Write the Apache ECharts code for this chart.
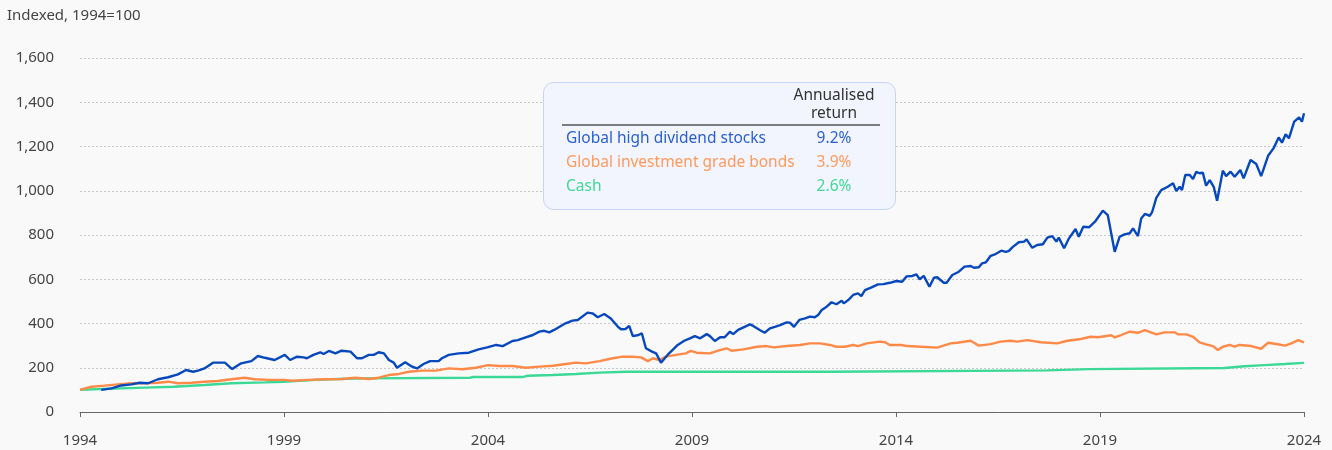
<!DOCTYPE html>
<html>
<head>
<meta charset="utf-8">
<script src="https://cdn.jsdelivr.net/npm/echarts@6/dist/echarts.min.js"></script>
<style>
html,body{margin:0;padding:0;background:#f9f9f9;}
#chart{width:1332px;height:450px;}
</style>
</head>
<body>
<div id="chart"></div>
<script>
var xTicks = [1994, 1999, 2004, 2009, 2014, 2019, 2024];
var yTicks = [0, 200, 400, 600, 800, 1000, 1200, 1400, 1600];

var seriesNames = ["Global high dividend stocks", "Global investment grade bonds", "Cash"];
var annualisedReturns = ["9.2%", "3.9%", "2.6%"];

var stocksYears = [1994.52,1994.77,1995.01,1995.26,1995.46,1995.67,1995.91,1996.16,1996.4,1996.6,1996.77,1996.89,1997.05,1997.26,1997.55,1997.73,1997.95,1998.2,1998.36,1998.53,1998.77,1999.02,1999.15,1999.32,1999.48,1999.56,1999.72,1999.89,1999.97,2000.1,2000.26,2000.41,2000.63,2000.79,2000.91,2001.08,2001.2,2001.32,2001.45,2001.57,2001.69,2001.77,2001.97,2002.14,2002.26,2002.42,2002.58,2002.79,2002.87,2003.04,2003.28,2003.53,2003.77,2003.98,2004.2,2004.36,2004.6,2004.73,2004.85,2005.1,2005.26,2005.38,2005.5,2005.62,2005.87,2006.07,2006.2,2006.44,2006.56,2006.69,2006.85,2007.01,2007.18,2007.26,2007.37,2007.46,2007.55,2007.69,2007.77,2007.87,2008.02,2008.12,2008.24,2008.4,2008.52,2008.65,2008.81,2008.95,2009.07,2009.2,2009.36,2009.44,2009.56,2009.69,2009.8,2009.93,2010.01,2010.13,2010.29,2010.42,2010.5,2010.66,2010.78,2010.91,2011.03,2011.16,2011.32,2011.4,2011.5,2011.63,2011.77,2011.89,2012.01,2012.09,2012.18,2012.3,2012.42,2012.54,2012.67,2012.72,2012.83,2012.95,2013.07,2013.15,2013.24,2013.4,2013.56,2013.69,2013.85,2014.01,2014.15,2014.26,2014.4,2014.5,2014.58,2014.68,2014.82,2014.93,2015.01,2015.17,2015.24,2015.38,2015.54,2015.68,2015.83,2015.91,2016.03,2016.11,2016.2,2016.32,2016.44,2016.58,2016.69,2016.77,2016.85,2017.01,2017.14,2017.2,2017.34,2017.46,2017.6,2017.71,2017.83,2017.93,2017.99,2018.12,2018.24,2018.4,2018.48,2018.59,2018.73,2018.89,2019.07,2019.19,2019.36,2019.48,2019.6,2019.73,2019.81,2019.93,2020.01,2020.1,2020.22,2020.28,2020.38,2020.5,2020.66,2020.79,2020.87,2020.95,2021.01,2021.09,2021.2,2021.28,2021.36,2021.44,2021.52,2021.6,2021.69,2021.79,2021.87,2022.01,2022.09,2022.2,2022.3,2022.44,2022.52,2022.69,2022.83,2022.95,2023.12,2023.26,2023.38,2023.46,2023.55,2023.63,2023.76,2023.88,2023.95,2024.0];
var stocksValues = [100,107,120,125,132,130,148,157,170,190,182,187,197,223,223,194,220,230,253,245,235,258,235,250,247,243,258,270,262,276,265,277,273,243,243,258,258,270,265,235,223,200,225,205,197,217,230,230,243,258,265,268,283,292,303,298,321,325,333,348,363,367,360,371,398,413,416,449,446,428,443,423,386,374,375,389,343,348,356,288,273,265,223,258,280,303,322,333,343,333,352,343,321,338,338,363,352,371,385,396,389,371,358,378,385,393,405,404,385,416,423,431,428,438,461,476,496,487,503,491,506,529,536,524,551,563,577,578,584,592,589,613,615,622,600,615,566,607,609,584,584,619,634,657,660,652,654,672,676,706,714,729,724,728,744,767,770,780,742,755,758,788,795,770,788,740,785,827,792,837,835,863,910,890,724,792,803,808,830,795,875,895,887,905,968,1003,1018,1034,999,1018,1003,1071,1071,1053,1086,1079,1082,1023,1048,1016,955,1091,1066,1086,1063,1094,1056,1139,1121,1066,1158,1194,1241,1217,1255,1237,1312,1332,1312,1350];

var bondsYears = [1994,1994.28,1994.6,1994.93,1995.26,1995.59,1995.91,1996.16,1996.4,1996.73,1997.05,1997.38,1997.71,1998.03,1998.28,1998.6,1999.0,1999.2,1999.6,2000.01,2000.42,2000.75,2001.08,2001.32,2001.57,2001.82,2002.06,2002.39,2002.72,2003.04,2003.37,2003.7,2004.0,2004.28,2004.6,2004.93,2005.26,2005.59,2005.91,2006.16,2006.4,2006.73,2007.06,2007.3,2007.55,2007.75,2007.92,2008.04,2008.2,2008.36,2008.61,2008.85,2008.97,2009.11,2009.44,2009.64,2009.85,2009.97,2010.26,2010.59,2010.83,2011.0,2011.32,2011.65,2011.89,2012.14,2012.38,2012.54,2012.75,2012.95,2013.07,2013.28,2013.6,2013.73,2013.85,2014.13,2014.28,2014.61,2015.01,2015.34,2015.5,2015.83,2016.03,2016.32,2016.56,2016.81,2016.97,2017.22,2017.55,2017.95,2018.2,2018.53,2018.77,2018.95,2019.28,2019.36,2019.52,2019.73,2019.93,2020.1,2020.38,2020.58,2020.83,2020.91,2021.12,2021.28,2021.44,2021.6,2021.77,2021.89,2022.01,2022.18,2022.3,2022.42,2022.71,2022.95,2023.12,2023.36,2023.53,2023.69,2023.86,2024.0];
var bondsValues = [100,114,119,125,130,130,132,137,130,132,137,140,148,155,148,145,145,141,145,148,149,155,149,155,167,172,182,187,187,197,193,200,212,208,208,200,205,209,217,223,220,230,243,250,250,247,230,243,235,250,258,265,276,268,265,277,288,277,283,295,298,292,298,303,310,310,303,295,295,303,298,310,318,315,303,303,298,295,291,310,313,322,300,307,318,322,318,325,315,310,322,330,340,338,347,337,348,363,358,370,351,360,360,351,351,340,315,306,298,280,295,303,295,303,298,286,313,306,300,310,325,315];

var cashYears = [1994,1994.52,1995.59,1996.3,1997.05,1997.71,1998.53,1999.0,1999.77,2000.34,2000.99,2003.56,2003.64,2004.85,2004.97,2005.59,2006.16,2006.73,2007.38,2012.38,2012.42,2017.71,2017.75,2018.73,2018.77,2022.05,2022.54,2023.03,2023.53,2024.0];
var cashValues = [100,104,110,114,122,130,134,137,145,149,152,155,158,158,164,167,172,178,182,182,188,188,194,194,199,199,207,212,217,222];

var colors = ["#0748bd", "#ff8a48", "#3ad996"];
var textColors = ["#2a5fd0", "#ff9a5e", "#40d894"];

function pairs(xs, ys) {
  var out = [];
  for (var i = 0; i < xs.length; i++) out.push([xs[i], ys[i]]);
  return out;
}

var FONT = "'Noto Sans', sans-serif";
var chart = echarts.init(document.getElementById('chart'), null, {renderer: 'canvas'});

var graphics = [
  {type: 'text', left: 7, top: 8, style: {text: 'Indexed, 1994=100', font: '15px ' + FONT, fill: '#444'}},
  {type: 'rect', shape: {x: 543.5, y: 82.5, width: 352, height: 127, r: 10}, style: {fill: '#f2f5fd', stroke: '#c7d2f6', lineWidth: 1}, z: 10},
  {type: 'text', x: 834, y: 96, style: {text: 'Annualised', font: '15.5px ' + FONT, fill: '#333', align: 'center', verticalAlign: 'middle'}, z: 11},
  {type: 'text', x: 834, y: 114, style: {text: 'return', font: '15.5px ' + FONT, fill: '#333', align: 'center', verticalAlign: 'middle'}, z: 11},
  {type: 'line', shape: {x1: 562, y1: 125, x2: 880, y2: 125}, style: {stroke: '#555', lineWidth: 1.5}, z: 11}
];
var rowYs = [139, 163, 187];
for (var i = 0; i < seriesNames.length; i++) {
  graphics.push({type: 'text', x: 566, y: rowYs[i], style: {text: seriesNames[i], font: '15.5px ' + FONT, fill: textColors[i], align: 'left', verticalAlign: 'middle'}, z: 11});
  graphics.push({type: 'text', x: 834, y: rowYs[i], style: {text: annualisedReturns[i], font: '15.5px ' + FONT, fill: textColors[i], align: 'center', verticalAlign: 'middle'}, z: 11});
}

chart.setOption({
  animation: false,
  backgroundColor: '#f9f9f9',
  textStyle: {fontFamily: FONT},
  grid: {left: 80, right: 28, top: 58, bottom: 38, containLabel: false},
  xAxis: {
    type: 'value',
    min: xTicks[0],
    max: xTicks[xTicks.length - 1],
    interval: 5,
    axisLine: {show: true, lineStyle: {color: '#666', width: 1}},
    axisTick: {show: true, length: 5, lineStyle: {color: '#666'}},
    axisLabel: {color: '#444', fontSize: 15, margin: 21, formatter: function (v) { return String(v); }},
    splitLine: {show: false}
  },
  yAxis: {
    type: 'value',
    min: yTicks[0],
    max: yTicks[yTicks.length - 1],
    interval: 200,
    axisLine: {show: false},
    axisTick: {show: false},
    axisLabel: {color: '#444', fontSize: 15, margin: 26},
    splitLine: {show: true, lineStyle: {color: '#c8c8c8', type: [2, 2], width: 1}}
  },
  graphic: graphics,
  series: [
    {name: seriesNames[2], type: 'line', data: pairs(cashYears, cashValues), showSymbol: false, lineStyle: {color: colors[2], width: 2.4}, itemStyle: {color: colors[2]}, z: 2},
    {name: seriesNames[1], type: 'line', data: pairs(bondsYears, bondsValues), showSymbol: false, lineStyle: {color: colors[1], width: 2.4}, itemStyle: {color: colors[1]}, z: 3},
    {name: seriesNames[0], type: 'line', data: pairs(stocksYears, stocksValues), showSymbol: false, lineStyle: {color: colors[0], width: 2.4}, itemStyle: {color: colors[0]}, z: 4}
  ]
});
</script>
</body>
</html>
